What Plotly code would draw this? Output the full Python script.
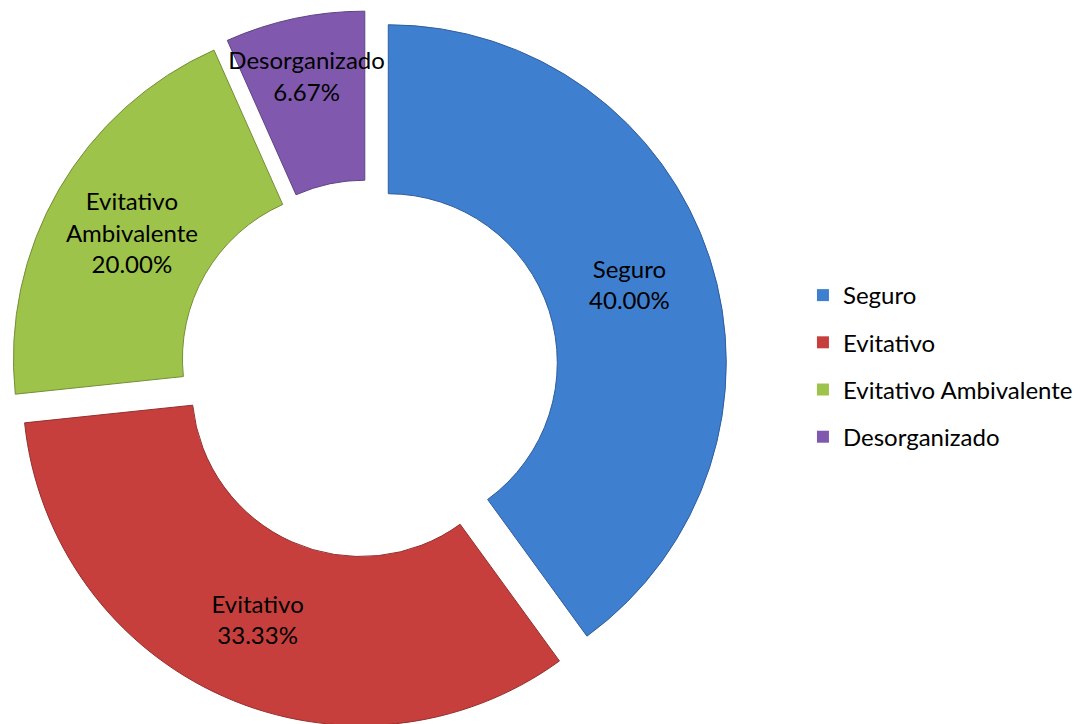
import plotly.graph_objects as go

categories = ["Seguro", "Evitativo", "Evitativo Ambivalente", "Desorganizado"]
inside_labels = ["Seguro", "Evitativo", "Evitativo<br>Ambivalente", "Desorganizado"]
counts = [6, 5, 3, 1]
colors = ["#3F7FCF", "#C63F3D", "#9DC34B", "#8059AF"]
edge_colors = ["#2E5E9C", "#93302E", "#748F37", "#5E4382"]

W, H = 1086, 724
cx, cy, R, pull = 361, 361, 338, 0.06
half = R * (1 + pull)

fig = go.Figure()

# main donut
fig.add_trace(
    go.Pie(
        labels=categories,
        values=counts,
        text=inside_labels,
        hole=0.5,
        pull=pull,
        sort=False,
        direction="clockwise",
        rotation=0,
        marker=dict(colors=colors, line=dict(color=edge_colors, width=1)),
        texttemplate="%{text}<br>%{percent:.2%}",
        textposition="inside",
        insidetextorientation="horizontal",
        textfont=dict(family="Lato", size=24, color="#000000"),
        hoverinfo="label+percent",
        showlegend=False,
        domain=dict(
            x=[(cx - half) / W, (cx + half) / W],
            y=[(H - cy - half) / H, (H - cy + half) / H],
        ),
    )
)

# legend entries (one tiny pie per category so the entries can be spaced)
for cat, col, val in zip(categories, colors, counts):
    fig.add_trace(
        go.Pie(
            labels=[cat],
            values=[val],
            marker=dict(colors=[col], line=dict(width=0)),
            textinfo="none",
            hoverinfo="skip",
            legendgroup=cat,
            showlegend=True,
            domain=dict(x=[0.0, 0.0004], y=[0.0, 0.0004]),
        )
    )

fig.update_layout(
    width=W,
    height=H,
    margin=dict(l=0, r=0, t=0, b=0),
    paper_bgcolor="white",
    plot_bgcolor="white",
    font=dict(family="Lato", size=24, color="#000000"),
    uniformtext=dict(minsize=24, mode="show"),
    legend=dict(
        x=0.732,
        y=0.5055,
        xanchor="left",
        yanchor="middle",
        traceorder="grouped",
        tracegroupgap=13,
        font=dict(family="Lato", size=24, color="#000000"),
        itemclick=False,
        itemdoubleclick=False,
    ),
)

fig.write_html("out.html")
